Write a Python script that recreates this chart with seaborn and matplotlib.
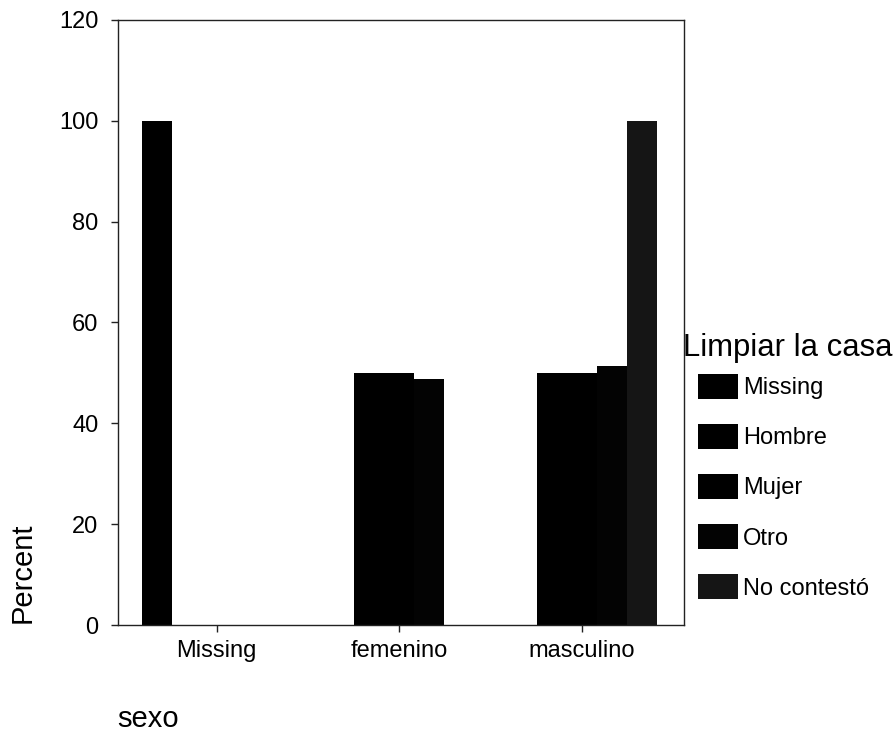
import matplotlib
matplotlib.use('Agg')
import matplotlib.pyplot as plt
import seaborn as sns
import pandas as pd

sns.set_style('white')
plt.rcParams['font.family'] = ['Liberation Sans', 'DejaVu Sans']
plt.rcParams['text.color'] = 'black'
plt.rcParams['xtick.color'] = 'black'
plt.rcParams['ytick.color'] = 'black'

sexo = ['Missing', 'femenino', 'masculino']
limpiar = ['Missing', 'Hombre', 'Mujer', 'Otro', 'No contestó']
# percent of each "Limpiar la casa" answer falling in each sexo group
pct_missing = [100.0, 0.0, 0.0]
pct_hombre = [0.0, 50.0, 50.0]
pct_mujer = [0.0, 50.0, 50.0]
pct_otro = [0.0, 48.7, 51.3]
pct_nocont = [0.0, 0.0, 100.0]
colores = ['#000000', '#000000', '#000000', '#030303', '#151515']

rows = []
for lvl, vals in zip(limpiar, [pct_missing, pct_hombre, pct_mujer, pct_otro, pct_nocont]):
    for s, v in zip(sexo, vals):
        rows.append({'sexo': s, 'Limpiar la casa': lvl, 'Percent': v})
df = pd.DataFrame(rows)

fig = plt.figure(figsize=(8.94, 7.34), dpi=100)
ax = fig.add_axes([0.132, 0.1485, 0.633, 0.8245])

sns.barplot(data=df, x='sexo', y='Percent', hue='Limpiar la casa', order=sexo,
            hue_order=limpiar, palette=colores, width=0.82, saturation=1,
            linewidth=0, errorbar=None, ax=ax)

ax.set_xlim(-0.54, 2.56)
ax.set_ylim(0, 120)
ax.set_yticks(range(0, 121, 20))
for sp in ax.spines.values():
    sp.set_visible(True)
    sp.set_linewidth(1.0)
    sp.set_color('#222222')
ax.tick_params(axis='both', direction='out', length=5, width=1, color='#222222',
               labelcolor='black', labelsize=17, pad=6, bottom=True, left=True)
ax.tick_params(axis='y', pad=9)
ax.set_xlabel('')
ax.set_ylabel('')

fig.text(0.025, 0.151, 'Percent', rotation=90, fontsize=21, ha='center', va='bottom')
fig.text(0.131, 0.001, 'sexo', fontsize=21, ha='left', va='bottom')

# legend title drawn separately so the gap to the first entry matches
fig.text(0.764, 0.526, 'Limpiar la casa', fontsize=22.3, ha='left', va='center')
handles, labels = ax.get_legend_handles_labels()
ax.get_legend().remove()
leg = fig.legend(handles, labels, loc='upper left',
                 bbox_to_anchor=(0.781, 0.491), frameon=False, fontsize=17,
                 handlelength=1.7, handleheight=1.25,
                 labelspacing=1.05, handletextpad=0.2, borderpad=0,
                 borderaxespad=0)
for h in leg.legend_handles:
    h.set_linewidth(0)

fig.savefig('out.png', dpi=100)
